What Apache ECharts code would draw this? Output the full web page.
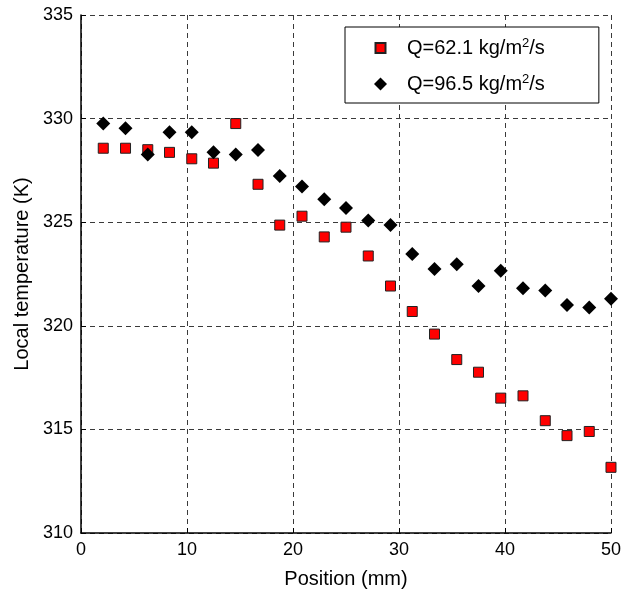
<!DOCTYPE html>
<html>
<head>
<meta charset="utf-8">
<script src="https://cdn.jsdelivr.net/npm/echarts@6.0.0/dist/echarts.min.js"></script>
<style>
  html, body { margin: 0; padding: 0; background: #fff; }
  #chart { width: 624px; height: 594px; }
</style>
</head>
<body>
<div id="chart"></div>
<script>
// Measurement positions along the channel (mm)
const positions = [2.1, 4.2, 6.3, 8.35, 10.45, 12.5, 14.6, 16.7, 18.75, 20.85, 22.95, 25.0,
                   27.1, 29.2, 31.25, 33.35, 35.45, 37.5, 39.6, 41.7, 43.8, 45.85, 47.95, 50.0];

// Local temperature (K) for the lower mass flux
const tempQ62 = [328.57, 328.57, 328.5, 328.37, 328.06, 327.85, 329.76, 326.83, 324.86, 325.29, 324.29, 324.76,
                 323.37, 321.92, 320.69, 319.6, 318.37, 317.76, 316.51, 316.62, 315.42, 314.7, 314.9, 313.17];

// Local temperature (K) for the higher mass flux
const tempQ96 = [329.76, 329.53, 328.27, 329.34, 329.34, 328.38, 328.27, 328.48, 327.23, 326.72, 326.11, 325.69,
                 325.08, 324.86, 323.46, 322.74, 322.97, 321.92, 322.66, 321.81, 321.7, 321.0, 320.88, 321.3];

// Series names (the superscript is rendered through rich text)
const seriesNames = ['Q=62.1 kg/m2/s', 'Q=96.5 kg/m2/s'];

const xTicks = { min: 0, max: 50, interval: 10 };
const yTicks = { min: 310, max: 335, interval: 5 };

const FONT = '"Liberation Sans", Arial, Helvetica, sans-serif';

function pairs(xs, ys) {
  return xs.map((x, i) => [x, ys[i]]);
}

const chart = echarts.init(document.getElementById('chart'), null, { renderer: 'canvas' });

const gridLine = { show: true, lineStyle: { color: '#3a3a3a', width: 1, type: [5, 4] } };

chart.setOption({
  animation: false,
  backgroundColor: '#ffffff',
  grid: { left: 81, right: 10, top: 15, bottom: 59, containLabel: false },
  xAxis: {
    type: 'value',
    min: xTicks.min, max: xTicks.max, interval: xTicks.interval,
    name: 'Position (mm)',
    nameLocation: 'middle',
    nameGap: 36,
    nameTextStyle: { fontFamily: FONT, fontSize: 20, color: '#000' },
    axisLine: { show: true, onZero: false, lineStyle: { color: '#000', width: 1.5 } },
    axisTick: { show: true, inside: true, length: 5, lineStyle: { color: '#000' } },
    axisLabel: { fontFamily: FONT, fontSize: 18, color: '#000', margin: 8 },
    splitLine: gridLine
  },
  yAxis: {
    type: 'value',
    min: yTicks.min, max: yTicks.max, interval: yTicks.interval,
    name: 'Local temperature (K)',
    nameLocation: 'middle',
    nameGap: 48,
    nameTextStyle: { fontFamily: FONT, fontSize: 20, color: '#000' },
    axisLine: { show: true, onZero: false, lineStyle: { color: '#000', width: 1.5 } },
    axisTick: { show: true, inside: true, length: 5, lineStyle: { color: '#000' } },
    axisLabel: { fontFamily: FONT, fontSize: 18, color: '#000', margin: 8 },
    splitLine: gridLine
  },
  legend: {
    orient: 'vertical',
    left: 345,
    top: 27,
    backgroundColor: '#ffffff',
    borderColor: '#000',
    borderWidth: 1,
    borderRadius: 0,
    padding: [10, 54, 9, 28],
    itemGap: 15,
    itemWidth: 13,
    itemHeight: 13,
    data: [
      { name: seriesNames[0], icon: 'path://M0,0M13,13M1.5,1.5h10v10h-10z' },
      { name: seriesNames[1], icon: 'diamond' }
    ],
    formatter: function (name) {
      const parts = name.split('m2');
      return '{g|}{t|' + parts[0] + 'm}{sup|2}{t|' + parts[1] + '}';
    },
    textStyle: {
      fontFamily: FONT,
      fontSize: 20,
      color: '#000',
      rich: {
        g: { width: 15 },
        t: { fontFamily: FONT, fontSize: 20, color: '#000', lineHeight: 22 },
        sup: { fontFamily: FONT, fontSize: 13, color: '#000', verticalAlign: 'top', lineHeight: 22 }
      }
    }
  },
  series: [
    {
      name: seriesNames[0],
      type: 'scatter',
      symbol: 'rect',
      symbolSize: 10,
      clip: false,
      itemStyle: { color: '#ff0000', borderColor: '#222', borderWidth: 1, opacity: 1 },
      data: pairs(positions, tempQ62),
      z: 2
    },
    {
      name: seriesNames[1],
      type: 'scatter',
      symbol: 'diamond',
      symbolSize: 14,
      clip: false,
      itemStyle: { color: '#000000', borderColor: '#000', borderWidth: 0, opacity: 1 },
      data: pairs(positions, tempQ96),
      z: 3
    }
  ]
});
</script>
</body>
</html>
